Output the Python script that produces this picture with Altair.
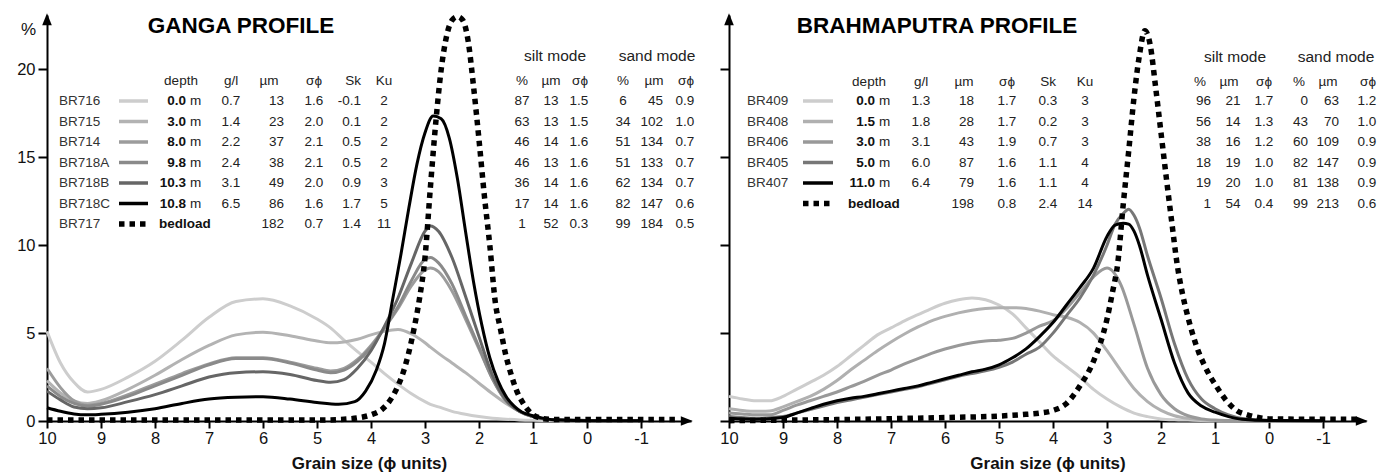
import altair as alt
import pandas as pd

FONT = "Liberation Sans"

# ---------------- Ganga curves (phi units, % ) ----------------
G_GRID = [10, 9.75, 9.5, 9.25, 9, 8.5, 8, 7.5, 7, 6.5, 6, 5.5, 5, 4.75, 4.5, 4.25, 4, 3.75,
          3.5, 3.25, 3, 2.9, 2.75, 2.5, 2.25, 2, 1.75, 1.5, 1.25, 1, 0.75, 0.5, 0, -1]
BR716 = [5.1, 3.3, 2.2, 1.65, 1.8, 2.5, 3.4, 4.6, 5.9, 6.8, 6.95, 6.55, 5.8, 5.3, 4.6, 3.95, 3.35, 2.7,
         2.1, 1.55, 1.1, 0.95, 0.8, 0.55, 0.38, 0.25, 0.15, 0.1, 0.06, 0.04, 0.03, 0.02, 0.02, 0.02]
BR715 = [2.3, 1.6, 1.15, 1.0, 1.15, 1.8, 2.6, 3.5, 4.3, 4.9, 5.05, 4.85, 4.55, 4.45, 4.5, 4.65, 4.9, 5.1,
         5.2, 4.95, 4.45, 4.2, 3.85, 3.3, 2.75, 2.15, 1.55, 1.0, 0.55, 0.25, 0.1, 0.05, 0.03, 0.02]
BR714 = [3.0, 1.9, 1.15, 0.9, 1.0, 1.5, 2.1, 2.7, 3.25, 3.6, 3.6, 3.35, 3.0, 2.85, 3.0, 3.5, 4.3, 5.3,
         6.4, 7.7, 8.6, 8.7, 8.5, 7.4, 5.8, 4.1, 2.4, 1.15, 0.55, 0.25, 0.1, 0.05, 0.03, 0.02]
BR718A = [2.0, 1.4, 1.0, 0.85, 0.95, 1.4, 2.0, 2.6, 3.2, 3.55, 3.55, 3.3, 2.9, 2.75, 2.9, 3.4, 4.2, 5.3,
          6.5, 8.0, 9.2, 9.3, 9.0, 7.8, 6.0, 4.2, 2.4, 1.15, 0.55, 0.25, 0.1, 0.05, 0.03, 0.02]
BR718B = [1.7, 1.2, 0.8, 0.7, 0.75, 1.1, 1.5, 2.0, 2.5, 2.75, 2.8, 2.65, 2.3, 2.2, 2.35, 3.0, 4.0, 5.4,
          7.0, 9.0, 10.8, 11.1, 10.8, 9.3, 7.1, 4.8, 2.6, 1.2, 0.55, 0.25, 0.1, 0.05, 0.03, 0.02]
BR718C_PHI = [10, 9.75, 9.5, 9.25, 9, 8.5, 8, 7.5, 7, 6.5, 6, 5.5, 5, 4.6, 4.3, 4.1, 3.9, 3.75, 3.6, 3.45,
              3.3, 3.15, 3.0, 2.85, 2.7, 2.55, 2.4, 2.25, 2.1, 1.95, 1.8, 1.65, 1.5, 1.35, 1.2, 1.0, 0.8,
              0.5, 0, -1]
BR718C = [0.75, 0.55, 0.4, 0.35, 0.38, 0.5, 0.7, 1.0, 1.25, 1.35, 1.38, 1.25, 1.05, 0.95, 1.1, 1.7, 2.9,
          4.4, 6.9, 9.4, 12.1, 14.6, 16.4, 17.35, 17.2, 16.1, 13.8, 10.8, 7.9, 5.5, 3.6, 2.3, 1.4, 0.85,
          0.5, 0.3, 0.15, 0.05, 0.02, 0.02]
BR717_PHI = [10, 9, 8, 7, 6, 5, 4.5, 4.2, 4.0, 3.8, 3.6, 3.5, 3.4, 3.3, 3.2, 3.1, 3.0, 2.9, 2.8, 2.7, 2.6,
             2.5, 2.4, 2.3, 2.2, 2.1, 2.0, 1.9, 1.8, 1.7, 1.6, 1.5, 1.4, 1.3, 1.2, 1.1, 1.0, 0.9, 0.7,
             0.5, 0, -1, -1.7]
BR717 = [0.05, 0.05, 0.05, 0.05, 0.05, 0.05, 0.1, 0.2, 0.35, 0.65, 1.4, 2.0, 2.8, 3.9, 5.3, 7.0, 9.3,
         13.3, 17.0, 20.0, 21.9, 22.8, 23.0, 22.8, 21.6, 19.0, 16.0, 12.8, 10.0, 6.8, 5.2, 3.7, 2.6,
         1.7, 1.1, 0.65, 0.35, 0.2, 0.1, 0.08, 0.08, 0.08, 0.08]

# ---------------- Brahmaputra curves ----------------
B_GRID = [10, 9.75, 9.5, 9.25, 9, 8.75, 8.5, 8.25, 8, 7.75, 7.5, 7.25, 7, 6.75, 6.5, 6.25, 6, 5.75,
          5.5, 5.25, 5, 4.75, 4.5, 4.25, 4, 3.75, 3.5, 3.25, 3, 2.75, 2.5, 2.25, 2, 1.75, 1.5, 1.25,
          1, 0.75, 0.5, 0, -1]
BR409 = [1.4, 1.25, 1.15, 1.15, 1.4, 1.8, 2.2, 2.6, 3.1, 3.7, 4.3, 4.9, 5.3, 5.7, 6.05, 6.4, 6.7, 6.9,
         7.0, 6.9, 6.6, 6.1, 5.3, 4.5, 3.7, 3.1, 2.5, 1.8, 1.25, 0.8, 0.45, 0.25, 0.12, 0.07, 0.05,
         0.03, 0.02, 0.02, 0.02, 0.02, 0.02]
BR408 = [0.7, 0.6, 0.55, 0.57, 0.8, 1.1, 1.4, 1.8, 2.3, 2.9, 3.45, 4.0, 4.5, 4.95, 5.35, 5.7, 5.95,
         6.15, 6.3, 6.4, 6.45, 6.45, 6.4, 6.25, 6.05, 5.9, 5.6, 5.0, 4.0, 2.9, 1.85, 1.1, 0.6, 0.3,
         0.15, 0.07, 0.03, 0.02, 0.02, 0.02, 0.02]
BR406 = [0.45, 0.4, 0.35, 0.35, 0.6, 0.9, 1.15, 1.4, 1.65, 1.95, 2.25, 2.6, 2.9, 3.25, 3.55, 3.85, 4.1,
         4.3, 4.45, 4.55, 4.6, 4.7, 5.0, 5.4, 5.7, 6.4, 7.3, 8.2, 8.7, 7.8, 5.5, 3.0, 1.5, 0.7, 0.3,
         0.12, 0.05, 0.03, 0.02, 0.02, 0.02]
B_PEAK_GRID = [10, 9.5, 9, 8.75, 8.5, 8.25, 8, 7.75, 7.5, 7.25, 7, 6.75, 6.5, 6.25, 6, 5.75, 5.5, 5.25,
               5, 4.75, 4.5, 4.25, 4, 3.75, 3.5, 3.25, 3.0, 2.85, 2.7, 2.6, 2.5, 2.4, 2.25, 2.0, 1.75,
               1.5, 1.25, 1.0, 0.75, 0.5, 0, -1]
BR405 = [0.25, 0.15, 0.25, 0.45, 0.65, 0.85, 1.05, 1.2, 1.35, 1.5, 1.65, 1.8, 1.95, 2.15, 2.35, 2.55,
         2.7, 2.85, 3.05, 3.35, 3.8, 4.2, 5.0, 6.0, 7.0, 8.3, 10.0, 11.2, 11.8, 12.05, 11.7, 11.0, 9.4,
         7.0, 4.4, 2.4, 1.25, 0.7, 0.35, 0.15, 0.03, 0.02]
BR407 = [0.15, 0.1, 0.2, 0.45, 0.7, 0.95, 1.15, 1.3, 1.4, 1.55, 1.7, 1.85, 2.0, 2.2, 2.4, 2.6, 2.8,
         2.95, 3.2, 3.6, 4.1, 4.8, 5.6, 6.6, 7.6, 8.7, 10.5, 11.15, 11.25, 11.2, 10.8, 10.0, 8.3, 5.8,
         3.3, 1.6, 0.85, 0.5, 0.25, 0.1, 0.03, 0.02]
B_BED_PHI = [10, 9, 8, 7, 6, 5, 4.5, 4.25, 4.0, 3.75, 3.5, 3.25, 3.0, 2.9, 2.8, 2.7, 2.6, 2.5, 2.4, 2.3,
             2.2, 2.1, 2.0, 1.9, 1.8, 1.7, 1.6, 1.5, 1.4, 1.3, 1.2, 1.1, 1.0, 0.8, 0.6, 0.4, 0.2, 0,
             -1, -1.7]
B_BED = [0.02, 0.05, 0.08, 0.13, 0.2, 0.28, 0.38, 0.45, 0.6, 1.0, 2.0, 3.4, 5.8, 7.3, 9.0, 12.3, 15.3,
         18.4, 20.8, 22.2, 21.4, 19.0, 16.4, 13.8, 11.3, 8.9, 7.2, 5.9, 4.8, 3.9, 3.2, 2.6, 2.1, 1.2,
         0.6, 0.35, 0.2, 0.12, 0.1, 0.1]

# ---------------- Ganga table ----------------
g_ids = ["BR716", "BR715", "BR714", "BR718A", "BR718B", "BR718C", "BR717"]
g_depth = ["0.0", "3.0", "8.0", "9.8", "10.3", "10.8", "bedload"]
g_gl = ["0.7", "1.4", "2.2", "2.4", "3.1", "6.5", ""]
g_um = ["13", "23", "37", "38", "49", "86", "182"]
g_sd = ["1.6", "2.0", "2.1", "2.1", "2.0", "1.6", "0.7"]
g_sk = ["-0.1", "0.1", "0.5", "0.5", "0.9", "1.7", "1.4"]
g_ku = ["2", "2", "2", "2", "3", "5", "11"]
g_silt_pct = ["87", "63", "46", "46", "36", "17", "1"]
g_silt_um = ["13", "13", "14", "13", "14", "14", "52"]
g_silt_sd = ["1.5", "1.5", "1.6", "1.6", "1.6", "1.6", "0.3"]
g_sand_pct = ["6", "34", "51", "51", "62", "82", "99"]
g_sand_um = ["45", "102", "134", "133", "134", "147", "184"]
g_sand_sd = ["0.9", "1.0", "0.7", "0.7", "0.7", "0.6", "0.5"]

# ---------------- Brahmaputra table ----------------
b_ids = ["BR409", "BR408", "BR406", "BR405", "BR407", ""]
b_depth = ["0.0", "1.5", "3.0", "5.0", "11.0", "bedload"]
b_gl = ["1.3", "1.8", "3.1", "6.0", "6.4", ""]
b_um = ["18", "28", "43", "87", "79", "198"]
b_sd = ["1.7", "1.7", "1.9", "1.6", "1.6", "0.8"]
b_sk = ["0.3", "0.2", "0.7", "1.1", "1.1", "2.4"]
b_ku = ["3", "3", "3", "4", "4", "14"]
b_silt_pct = ["96", "56", "38", "18", "19", "1"]
b_silt_um = ["21", "14", "16", "19", "20", "54"]
b_silt_sd = ["1.7", "1.3", "1.2", "1.0", "1.0", "0.4"]
b_sand_pct = ["0", "43", "60", "82", "81", "99"]
b_sand_um = ["63", "70", "109", "147", "138", "213"]
b_sand_sd = ["1.2", "1.0", "0.9", "0.9", "0.9", "0.6"]

HEADERS = ["depth", "g/l", "\u00b5m", "\u03c3\u03d5", "Sk", "Ku",
           "%", "\u00b5m", "\u03c3\u03d5", "%", "\u00b5m", "\u03c3\u03d5"]
MODES = ["silt mode", "sand mode"]

# ---------------- layout (pixels) ----------------
YMAX = 23.1
H = 406
PX_PER_PCT = H / YMAX
PX_PER_PHI = 54.0
W_LEFT, W_RIGHT = 644, 637
ORIGIN_Y = 420

LEFT_LAYOUT = dict(
    x0=46, row0=100, step=20.5, head_y=80, mode_y=55,
    title=("GANGA PROFILE", 240, 25),
    id_x=58, line=(118, 147), depth_r=185, m_x=189, bed_x=158,
    cols=[("gl", 230, "center"), ("um", 283, "right"), ("sd", 313, "center"),
          ("sk", 360, "right"), ("ku", 383, "center"), ("silt_pct", 521, "center"),
          ("silt_um", 550, "center"), ("silt_sd", 578, "center"), ("sand_pct", 622, "center"),
          ("sand_um", 662, "right"), ("sand_sd", 684, "center")],
    heads=[180, 230, 268, 313, 352, 383, 521, 550, 579, 622, 653, 685],
    modes=[554, 656],
)
RIGHT_LAYOUT = dict(
    x0=728, row0=100, step=20.5, head_y=81, mode_y=56,
    title=("BRAHMAPUTRA PROFILE", 936, 25),
    id_x=746, line=(802, 832), depth_r=874, m_x=878, bed_x=847,
    cols=[("gl", 920, "center"), ("um", 973, "right"), ("sd", 1006, "center"),
          ("sk", 1047, "center"), ("ku", 1084, "center"), ("silt_pct", 1210, "right"),
          ("silt_um", 1232, "center"), ("silt_sd", 1263, "center"), ("sand_pct", 1307, "right"),
          ("sand_um", 1338, "right"), ("sand_sd", 1366, "center")],
    heads=[868, 920, 963, 1006, 1047, 1084, 1199, 1228, 1263, 1298, 1327, 1367],
    modes=[1234, 1335],
)


def make_axes(width, show_labels):
    xmin = 10 - width / PX_PER_PHI
    X = alt.X("phi:Q",
              scale=alt.Scale(domain=[xmin, 10], reverse=True, nice=False, zero=False),
              axis=alt.Axis(values=list(range(10, -2, -1)), labelExpr="'' + datum.value",
                            title="Grain size (\u03d5 units)", titleFontSize=17,
                            titleFontWeight="bold", titlePadding=9, tickSize=7,
                            labelPadding=2, labelFlush=False))
    if show_labels:
        yaxis = alt.Axis(values=[0, 5, 10, 15, 20], title="%", titleAngle=0, titleX=-19,
                         titleY=14, titleAlign="center", titleBaseline="middle",
                         titleFontSize=17, titleFontWeight="normal", tickSize=9,
                         labelPadding=3)
    else:
        yaxis = alt.Axis(values=[0, 5, 10, 15, 20], title="", labels=False, tickSize=9)
    Y = alt.Y("pct:Q", scale=alt.Scale(domain=[0, YMAX], nice=False, zero=True), axis=yaxis)
    return X, Y, xmin


def curve(phis, vals, color, X, Y, dotted=False):
    df = pd.DataFrame({"phi": phis, "pct": vals})
    if dotted:
        mk = alt.Chart(df).mark_line(interpolate="monotone", color=color, strokeWidth=5.5,
                                     strokeDash=[5.5, 5], strokeCap="butt")
    else:
        mk = alt.Chart(df).mark_line(interpolate="monotone", color=color, strokeWidth=3)
    return mk.encode(x=X, y=Y)


def table_layers(L, X, Y, rows, colors, dotted_rows):
    x0 = L["x0"]

    def to_phi(px):
        return 10 - (px - x0) / PX_PER_PHI

    def to_pct(py):
        return (ORIGIN_Y - py) / PX_PER_PCT

    cells = []
    n = len(rows["ids"])
    for i in range(n):
        py = L["row0"] + i * L["step"]
        cells.append((rows["ids"][i], L["id_x"], py, "left", False, 13.5, "#333333"))
        d = rows["depth"][i]
        if d == "bedload":
            cells.append((d, L["bed_x"], py, "left", True, 13.5, "#111111"))
        else:
            cells.append((d, L["depth_r"], py, "right", True, 13.5, "#111111"))
            cells.append(("m", L["m_x"], py, "left", False, 13.5, "#222222"))
        for key, px, al in L["cols"]:
            cells.append((rows[key][i], px, py, al, False, 13.5, "#222222"))
    for h, px in zip(HEADERS, L["heads"]):
        cells.append((h, px, L["head_y"], "center", False, 13.5, "#222222"))
    for h, px in zip(MODES, L["modes"]):
        cells.append((h, px, L["mode_y"], "center", False, 15.5, "#222222"))
    t, tx, ty = L["title"]
    cells.append((t, tx, ty, "center", True, 22.5, "#000000"))

    df = pd.DataFrame(cells, columns=["t", "px", "py", "align", "bold", "size", "color"])
    df["phi"] = df["px"].map(to_phi)
    df["pct"] = df["py"].map(to_pct)
    layers = []
    for (al, bold, size, color), sub in df.groupby(["align", "bold", "size", "color"]):
        layers.append(
            alt.Chart(sub[["t", "phi", "pct"]]).mark_text(
                align=al, baseline="middle", font=FONT, fontSize=float(size),
                fontWeight="bold" if bold else "normal", color=color
            ).encode(x=X, y=Y, text="t:N"))

    lx1, lx2 = L["line"]
    for i, col in enumerate(colors):
        py = L["row0"] + i * L["step"]
        seg = pd.DataFrame({"phi": [to_phi(lx1)], "phi2": [to_phi(lx2)], "pct": [to_pct(py)]})
        if i in dotted_rows:
            m = alt.Chart(seg).mark_rule(color=col, strokeWidth=5.5, strokeDash=[5.5, 5],
                                         strokeCap="butt")
        else:
            m = alt.Chart(seg).mark_rule(color=col, strokeWidth=3.5, strokeCap="butt")
        layers.append(m.encode(x=X, x2="phi2:Q", y=Y))
    return layers


def arrows(X, Y, xmin):
    up = alt.Chart(pd.DataFrame({"phi": [10], "pct": [YMAX]})).mark_point(
        shape="M0,-0.3L0.8,1.7L-0.8,1.7Z", size=144, filled=True, color="black", opacity=1
    ).encode(x=X, y=Y)
    right = alt.Chart(pd.DataFrame({"phi": [xmin], "pct": [0]})).mark_point(
        shape="M0.3,0L-1.7,0.8L-1.7,-0.8Z", size=144, filled=True, color="black", opacity=1
    ).encode(x=X, y=Y)
    return [up, right]


# ---------------- left panel ----------------
XL, YL, xminL = make_axes(W_LEFT, True)
g_colors = ["#cdcdcd", "#b3b3b3", "#9c9c9c", "#8a8a8a", "#666666", "#000000", "#000000"]
left_layers = [
    curve(G_GRID, BR716, g_colors[0], XL, YL),
    curve(G_GRID, BR715, g_colors[1], XL, YL),
    curve(G_GRID, BR714, g_colors[2], XL, YL),
    curve(G_GRID, BR718A, g_colors[3], XL, YL),
    curve(G_GRID, BR718B, g_colors[4], XL, YL),
    curve(BR718C_PHI, BR718C, g_colors[5], XL, YL),
    curve(BR717_PHI, BR717, g_colors[6], XL, YL, dotted=True),
]
g_rows = dict(ids=g_ids, depth=g_depth, gl=g_gl, um=g_um, sd=g_sd, sk=g_sk, ku=g_ku,
              silt_pct=g_silt_pct, silt_um=g_silt_um, silt_sd=g_silt_sd,
              sand_pct=g_sand_pct, sand_um=g_sand_um, sand_sd=g_sand_sd)
left_layers += table_layers(LEFT_LAYOUT, XL, YL, g_rows, g_colors, {6})
left_layers += arrows(XL, YL, xminL)
left = alt.layer(*left_layers).properties(width=W_LEFT, height=H)

# ---------------- right panel ----------------
XR, YR, xminR = make_axes(W_RIGHT, False)
b_colors = ["#cdcdcd", "#b0b0b0", "#999999", "#777777", "#000000", "#000000"]
right_layers = [
    curve(B_GRID, BR409, b_colors[0], XR, YR),
    curve(B_GRID, BR408, b_colors[1], XR, YR),
    curve(B_GRID, BR406, b_colors[2], XR, YR),
    curve(B_PEAK_GRID, BR405, b_colors[3], XR, YR),
    curve(B_PEAK_GRID, BR407, b_colors[4], XR, YR),
    curve(B_BED_PHI, B_BED, b_colors[5], XR, YR, dotted=True),
]
b_rows = dict(ids=b_ids, depth=b_depth, gl=b_gl, um=b_um, sd=b_sd, sk=b_sk, ku=b_ku,
              silt_pct=b_silt_pct, silt_um=b_silt_um, silt_sd=b_silt_sd,
              sand_pct=b_sand_pct, sand_um=b_sand_um, sand_sd=b_sand_sd)
right_layers += table_layers(RIGHT_LAYOUT, XR, YR, b_rows, b_colors, {5})
right_layers += arrows(XR, YR, xminR)
right = alt.layer(*right_layers).properties(width=W_RIGHT, height=H)

chart = alt.hconcat(left, right, spacing=38, bounds="flush").properties(
    padding={"left": 16, "top": 5, "right": 0, "bottom": 0},
    background="white",
).configure_view(strokeWidth=0).configure_axis(
    grid=False, domainColor="black", domainWidth=2, tickColor="black", tickWidth=2,
    labelFont=FONT, labelFontSize=16.5, labelColor="#111111", titleFont=FONT,
    titleColor="#111111",
)

chart.save("out.html", embed_options={"renderer": "svg", "actions": False})
